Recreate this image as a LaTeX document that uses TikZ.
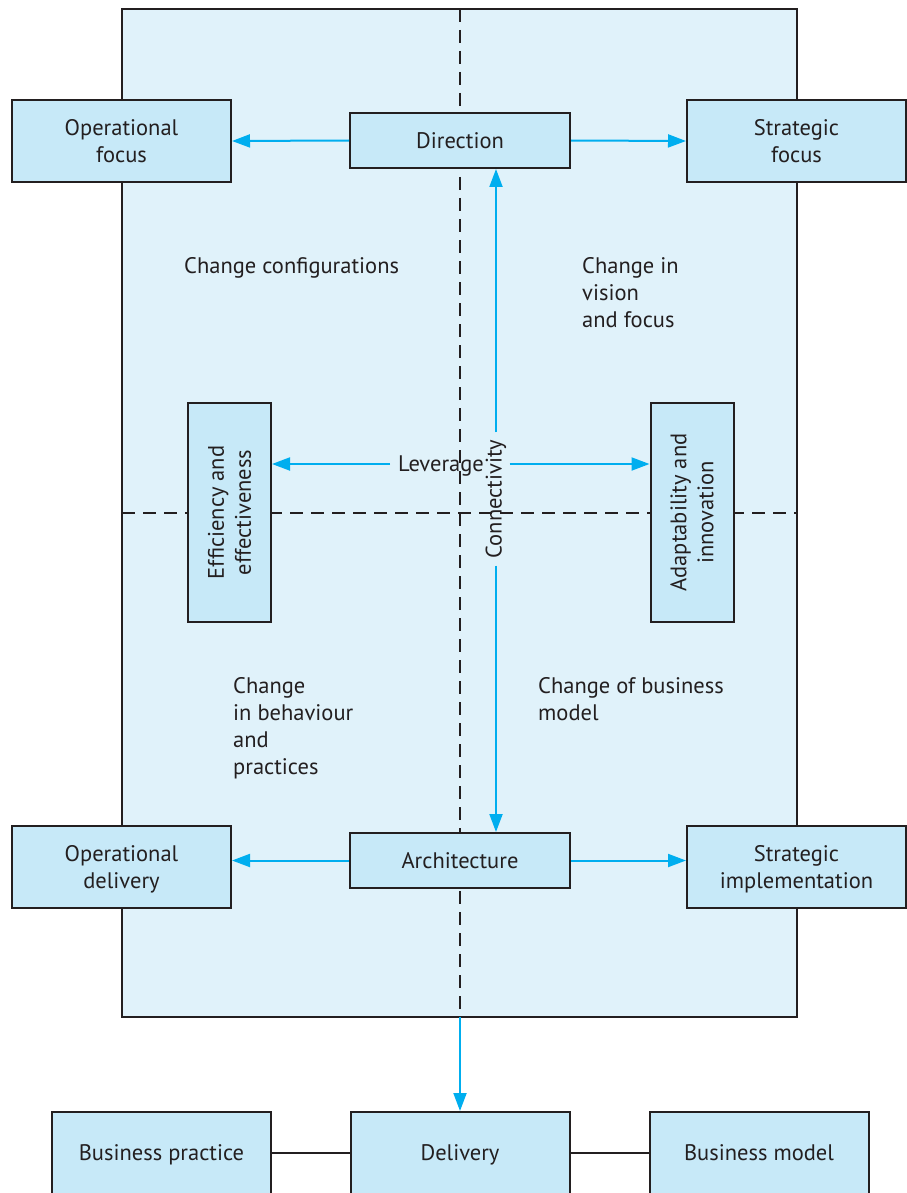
\documentclass[tikz,border=0pt]{standalone}
\usepackage{fontspec}
\setmainfont{PT Sans}
\usetikzlibrary{arrows.meta}
\definecolor{panel}{HTML}{E0F2FA}
\definecolor{boxfill}{HTML}{C7E9F8}
\definecolor{flow}{HTML}{00AEEF}
\definecolor{ink}{HTML}{231F20}
\begin{document}
\begin{tikzpicture}[x=1pt, y=-1pt,
  font=\fontsize{22.5}{27}\selectfont,
  box/.style={draw=ink, line width=2pt, fill=boxfill, inner sep=0pt,
    align=center, text=ink, text depth=0pt},
  widebox/.style={box, minimum width=219pt, minimum height=82pt},
  flatbox/.style={box, minimum width=220pt, minimum height=55pt},
  tallbox/.style={box, minimum width=83pt, minimum height=219pt},
  sidetext/.style={rotate=90, align=center, text=ink, inner sep=0pt},
  note/.style={text=ink, align=left, inner sep=0pt, anchor=base west},
  divider/.style={draw=ink, line width=1.6pt, dash pattern=on 13pt off 8pt},
  flowline/.style={draw=flow, line width=2pt},
  flowarrow/.style={flowline, -{Triangle[length=18pt,width=13pt]}},
  link/.style={draw=ink, line width=2pt}]
\useasboundingbox (0,0) rectangle (906,1193);

% shaded field with its quadrant dividers
\filldraw[fill=panel, draw=ink, line width=2pt] (122,9) rectangle (797,1017);
\coordinate (vtop) at (460,9);
\coordinate (vbot) at (460,1017);
\coordinate (hleft) at (122,513);
\coordinate (hright) at (797,513);
\draw[divider] (vtop) -- (vbot);
\draw[divider] (hleft) -- (hright);

% boxes
\node[widebox] (opfocus) at (121.5,141) {Operational\\focus};
\node[flatbox] (dir) at (460,140.5) {Direction};
\node[widebox] (stfocus) at (796.5,141) {Strategic\\focus};
\node[tallbox] (eff) at (229.5,512.5) {};
\node[sidetext] (efftext) at (eff) {Efficiency and\\effectiveness};
\node[tallbox] (adapt) at (692,512.5) {};
\node[sidetext] (adapttext) at (adapt) {Adaptability and\\innovation};
\node[widebox] (opdel) at (121.5,867) {Operational\\delivery};
\node[flatbox] (arch) at (460,860.5) {Architecture};
\node[widebox] (stimpl) at (796.5,867) {Strategic\\implementation};
\node[widebox] (bpractice) at (161.5,1153) {Business practice};
\node[widebox] (delivery) at (460,1153) {Delivery};
\node[widebox] (bmodel) at (759,1153) {Business model};

% quadrant captions (anchored at the baseline of their last line)
\node[note] (q1) at (184,273) {Change configurations};
\node[note] (q2) at (582,327) {Change in\\vision\\and focus};
\node[note] (q3) at (233,774) {Change\\in behaviour\\and\\practices};
\node[note] (q4) at (538,720) {Change of business\\model};

% axis labels
\node[text=ink, inner xsep=8pt, inner ysep=0pt, text depth=0pt] (lev) at (441,464) {Leverage};
\node[rotate=90, text=ink, inner xsep=7pt, inner ysep=3pt] (conn) at (496,499) {Connectivity};

% flows
\draw[flowarrow] (dir.west) -- (opfocus.east);
\draw[flowarrow] (dir.east) -- (stfocus.west);
\draw[flowarrow] (arch.west) -- (opdel.east |- arch);
\draw[flowarrow] (arch.east) -- (stimpl.west |- arch);
\draw[flowarrow] (lev.west) -- (eff.east |- lev);
\draw[flowarrow] (conn.south |- lev) -- (adapt.west |- lev);
\draw[flowarrow] (conn.east) -- (dir.south -| conn);
\draw[flowarrow] (conn.west) -- (arch.north -| conn);
\draw[flowarrow] (vbot) -- (delivery.north);
\draw[link] (bpractice.east) -- (delivery.west);
\draw[link] (delivery.east) -- (bmodel.west);
\end{tikzpicture}
\end{document}
